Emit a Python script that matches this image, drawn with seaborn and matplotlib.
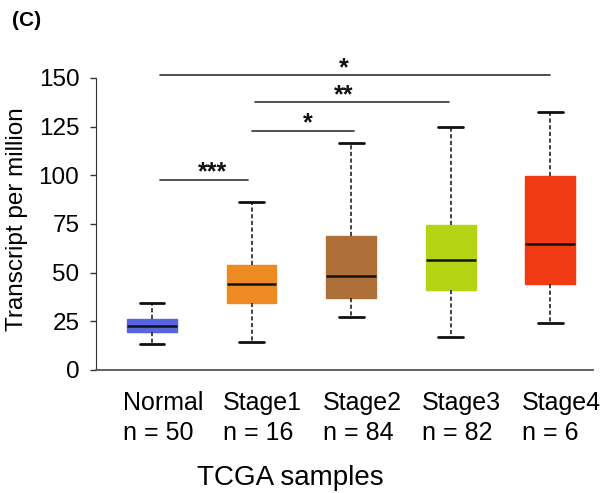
import numpy as np
import pandas as pd
import matplotlib
matplotlib.use("Agg")
import matplotlib.pyplot as plt
import matplotlib.transforms as mtransforms
import seaborn as sns

# five-number summaries (TPM)
groups = ["Normal", "Stage1", "Stage2", "Stage3", "Stage4"]
n_samples = [50, 16, 84, 82, 6]
tpm_min = [13.3, 14.3, 27.0, 16.7, 24.0]
tpm_q1 = [19.6, 34.3, 37.2, 41.2, 44.0]
tpm_median = [22.7, 44.3, 48.3, 56.6, 64.9]
tpm_q3 = [26.0, 54.1, 68.9, 74.4, 99.8]
tpm_max = [34.6, 86.5, 116.7, 125.0, 132.7]
box_colors = ["#5566E0", "#EE8A22", "#AE7038", "#B4D413", "#F03A11"]

# significance bars
sig_start = [0.08, 1.00, 1.03, 0.08]
sig_end = [0.96, 2.03, 2.98, 4.00]
sig_y = [97.7, 123.0, 137.5, 151.4]
sig_text = ["***", "*", "**", "*"]
sig_text_x = [0.61, 1.56, 1.92, 1.93]

# long form: 5 points per group -> quartiles land exactly on the summary values
rows = []
for g, lo, q1, md, q3, hi in zip(groups, tpm_min, tpm_q1, tpm_median, tpm_q3, tpm_max):
    for v in (lo, q1, md, q3, hi):
        rows.append({"group": g, "tpm": v})
df = pd.DataFrame(rows)

sns.set_style("ticks")
plt.rcParams["font.family"] = ["Liberation Sans", "DejaVu Sans"]
plt.rcParams["text.color"] = "black"
plt.rcParams["xtick.color"] = "black"
plt.rcParams["ytick.color"] = "black"
plt.rcParams["axes.labelcolor"] = "black"

fig = plt.figure(figsize=(6.09, 4.93), dpi=100)
ax = fig.add_axes([96 / 609, 0.2495, 497 / 609, 0.6239])

sns.boxplot(
    data=df, x="group", y="tpm", hue="group", order=groups, hue_order=groups,
    palette=dict(zip(groups, box_colors)), legend=False, ax=ax, saturation=1,
    whis=(0, 100), width=0.5, showfliers=False, linewidth=1.0,
    whiskerprops=dict(color="#222222", linestyle=(0, (2.5, 1.5)), linewidth=1.2),
    capprops=dict(color="#111111", linewidth=2.0),
    medianprops=dict(color="#111111", linewidth=1.8),
)
for patch in ax.patches:
    patch.set_edgecolor(patch.get_facecolor())

for x0, x1, y, s, tx in zip(sig_start, sig_end, sig_y, sig_text, sig_text_x):
    ax.plot([x0, x1], [y, y], color="#333333", lw=1.2, clip_on=False)
    ax.text(tx, y, s, ha="center", va="baseline", fontsize=18,
            fontweight="bold", color="#111111")

ax.set_xlim(-0.563, 4.43)
ax.set_ylim(0, 158)
ax.set_yticks([0, 25, 50, 75, 100, 125, 150])
ax.tick_params(axis="y", length=4.5, width=1.0, pad=7.5, labelsize=17.5,
               color="#333333")
ax.tick_params(axis="x", length=0, pad=15, labelsize=18)
ax.set_xticks(range(len(groups)))
ax.set_xticklabels([f"{g}\nn = {n}" for g, n in zip(groups, n_samples)],
                   linespacing=1.3)
shift = mtransforms.ScaledTranslation(0.11, 0, fig.dpi_scale_trans)
for lab in ax.get_xticklabels():
    lab.set_multialignment("left")
    lab.set_transform(lab.get_transform() + shift)

sns.despine(ax=ax)
ax.spines["left"].set_bounds(0, 150)
ax.spines["left"].set_color("#333333")
ax.spines["bottom"].set_color("#555555")
ax.spines["bottom"].set_linewidth(1.3)

ax.set_ylabel("Transcript per million", fontsize=17.5)
ax.yaxis.set_label_coords(-0.137, 0.49)
ax.set_xlabel("TCGA samples", fontsize=20)
ax.xaxis.set_label_coords(0.39, -0.31)

fig.text(12 / 609, 1 - 20 / 493, "(C)", fontsize=15, fontweight="bold",
         ha="left", va="center")

fig.savefig("out.png", dpi=100)
